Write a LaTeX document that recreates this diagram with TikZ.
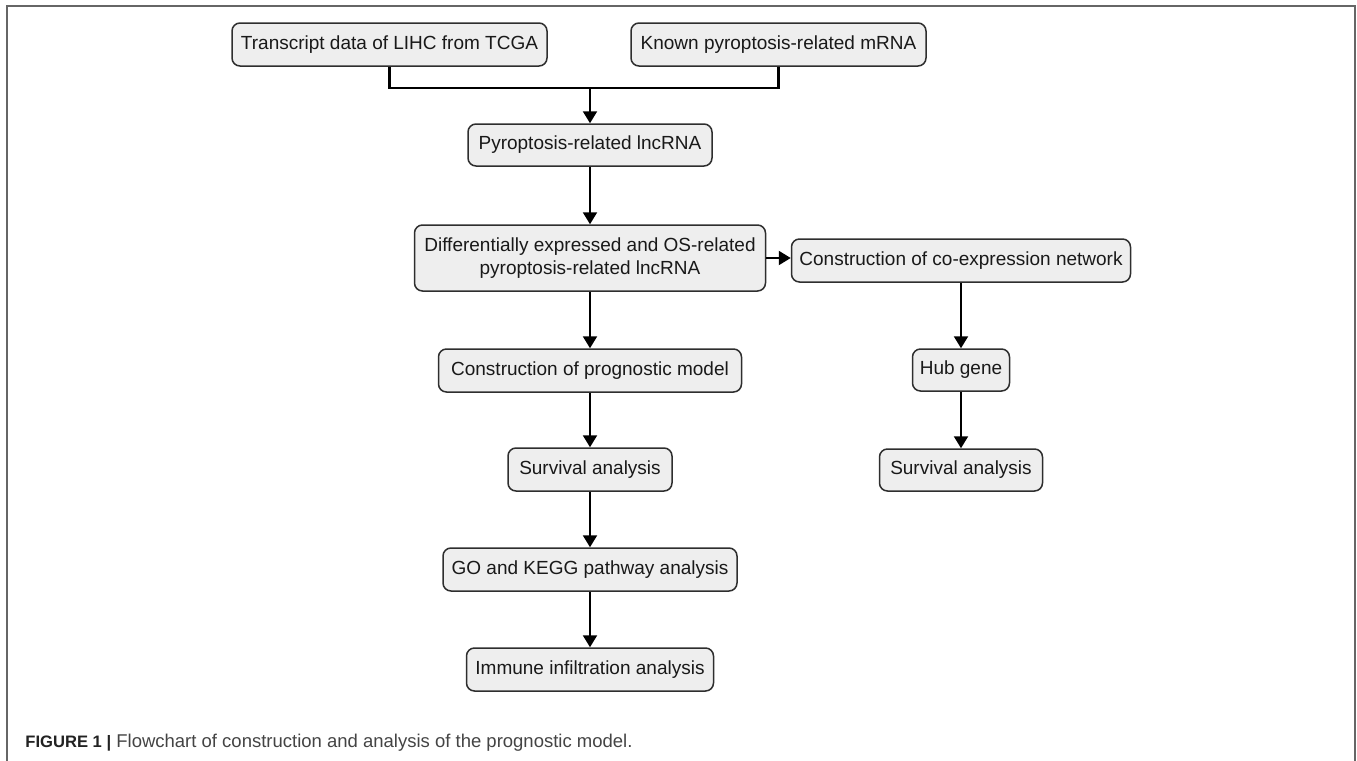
\documentclass[tikz,border=0pt]{standalone}
\usepackage{fontspec}
\setmainfont{Liberation Sans}
\usetikzlibrary{arrows.meta}
\definecolor{boxfill}{HTML}{EEEEEE}
\definecolor{boxline}{HTML}{2E2E2E}
\definecolor{framecol}{HTML}{666666}
\definecolor{captxt}{HTML}{444444}
\definecolor{capbold}{HTML}{222222}
\begin{document}
\begin{tikzpicture}[x=0.5pt,y=-0.5pt,
  stepbox/.style={draw=boxline, fill=boxfill, rounded corners=4pt, line width=0.75pt,
    minimum height=21.5pt, inner sep=0pt, align=center, text=black!90,
    font=\fontsize{9.5}{11.5}\selectfont},
  flow/.style={line width=1.05pt, draw=black},
  arr/.style={flow, -{Triangle[width=7pt,length=6pt]}},
  capstyle/.style={inner sep=0pt, anchor=base west}
]
\useasboundingbox (0,0) rectangle (1357,761);
% frame
\draw[framecol, line width=1pt] (7,761) -- (7,6) -- (1355,6) -- (1355,761);

% nodes
\node[stepbox, minimum width=157.5pt] (trans) at (389.5,44.5) {Transcript data of LIHC from TCGA};
\node[stepbox, minimum width=147.5pt] (known) at (778.5,44.5) {Known pyroptosis-related mRNA};
\node[stepbox, minimum width=122pt, minimum height=21pt] (pyro) at (590,145) {Pyroptosis-related lncRNA};
\node[stepbox, minimum width=175.5pt, minimum height=33pt] (diff) at (590,258) {Differentially expressed and OS-related\\pyroptosis-related lncRNA};
\node[stepbox, minimum width=169.5pt] (coexp) at (961,260.5) {Construction of co-expression network};
\node[stepbox, minimum width=151.5pt] (prog) at (590,370.5) {Construction of prognostic model};
\node[stepbox, minimum width=48.5pt, minimum height=21pt] (hub) at (961,370) {Hub gene};
\node[stepbox, minimum width=82pt] (surv1) at (590,469.5) {Survival analysis};
\node[stepbox, minimum width=81.5pt, minimum height=21pt] (surv2) at (961,470) {Survival analysis};
\node[stepbox, minimum width=147pt] (go) at (590,569.5) {GO and KEGG pathway analysis};
\node[stepbox, minimum width=123.5pt] (imm) at (590,669.5) {Immune infiltration analysis};

% connectors
\coordinate (join) at (590,88);
\draw[flow] (trans.south) -- (trans.south |- join) -- (known.south |- join) -- (known.south);
\draw[arr] (join) -- (pyro.north);
\draw[arr] (pyro.south) -- (diff.north);
\draw[arr] (diff.east) -- (diff.east -| coexp.west);
\draw[arr] (diff.south) -- (prog.north);
\draw[arr] (prog.south) -- (surv1.north);
\draw[arr] (surv1.south) -- (go.north);
\draw[arr] (go.south) -- (imm.north);
\draw[arr] (coexp.south) -- (hub.north);
\draw[arr] (hub.south) -- (surv2.north);

% caption
\node[capstyle] (cap) at (25,747) {\textcolor{capbold}{\fontsize{8.3}{11}\selectfont\textbf{FIGURE 1 |}}\textcolor{captxt}{\fontsize{9.25}{11}\selectfont\ Flowchart of construction and analysis of the prognostic model.}};
\end{tikzpicture}
\end{document}
